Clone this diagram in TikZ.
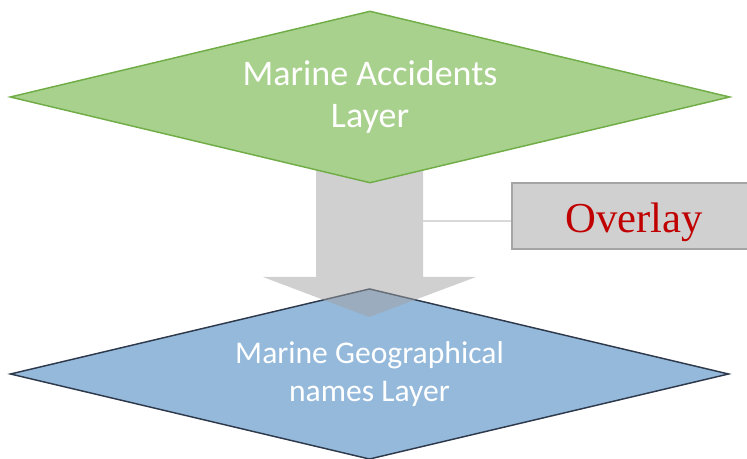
\documentclass[tikz,border=0pt]{standalone}
\usepackage{xcolor}
\usepackage{fontspec}
\usepackage{tikz}
\usetikzlibrary{shapes.geometric}
\setmainfont{Liberation Serif}
\newfontfamily\calfont{Carlito}
\definecolor{accgreen}{HTML}{A9D18E}
\definecolor{accgreenline}{HTML}{70AD47}
\definecolor{accblue}{HTML}{94B9DB}
\definecolor{accblueline}{HTML}{2E3A4C}
\definecolor{boxgray}{HTML}{D0D0D0}
\definecolor{boxline}{HTML}{A5A5A5}
\definecolor{linkgray}{HTML}{D9D9D9}
\definecolor{darkred}{HTML}{C00000}

\begin{document}
\begin{tikzpicture}[x=0.75pt, y=-0.75pt,
        layer/.style={diamond, aspect=4.2, inner sep=0pt, line width=1.1pt,
            text=white, align=center, font=\calfont},
        overlaybox/.style={rectangle, draw=boxline, fill=boxgray, line width=1.7pt,
            minimum width=183pt, minimum height=50pt, text=darkred,
            text height=25pt, text depth=0pt,
            font=\fontsize{32}{36}\selectfont},
        link/.style={draw=linkgray, line width=0.9pt}]
        \useasboundingbox (0,0) rectangle (747,459);

        % lower layer
        \node[layer, draw=accblueline, fill=accblue, minimum width=539pt, minimum height=128pt,
            font=\calfont\fontsize{23.7}{28.5}\selectfont] (geo) at (369.5,374)
            {Marine Geographical\\names Layer};

        % overlay arrow, half transparent
        \fill[black!37, fill opacity=0.5] (316,140) -- (423,140) -- (423,277) -- (476,277)
            -- (369,317) -- (263,277) -- (316,277) -- cycle;

        % upper layer
        \node[layer, draw=accgreenline, fill=accgreen, minimum width=540pt, minimum height=129pt,
            font=\calfont\fontsize{27}{32}\selectfont] (acc) at (370,97)
            {Marine Accidents\\Layer};

        \node[overlaybox] (box) at (634,216) {Overlay};
        \coordinate (shaft) at (423,221);
        \draw[link] (shaft) -- (shaft -| box.west);
    \end{tikzpicture}
\end{document}
